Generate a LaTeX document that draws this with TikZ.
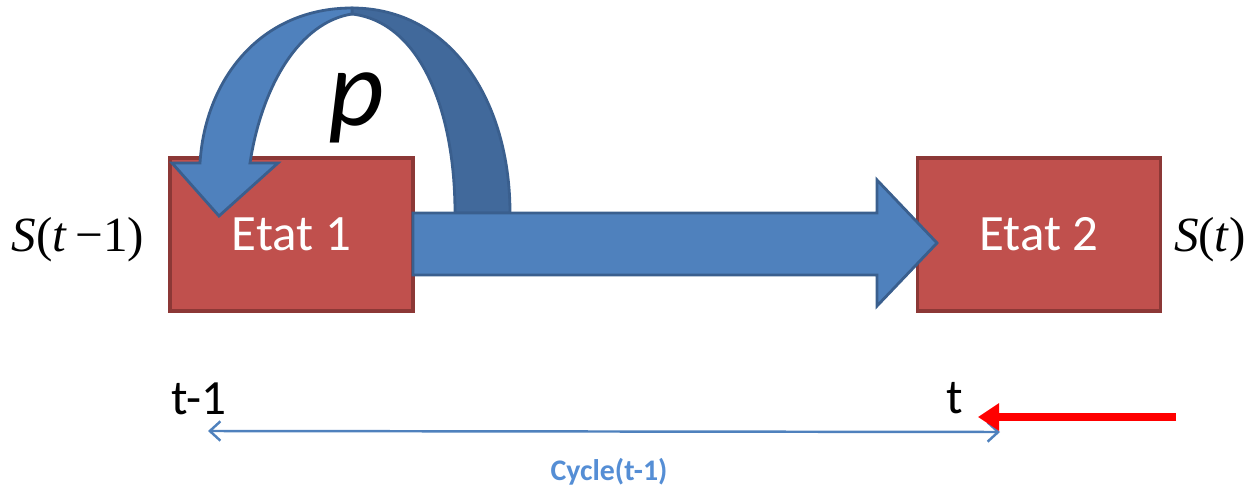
\documentclass[tikz,border=0pt]{standalone}
\usepackage{fontspec}
\setmainfont{Carlito}
\newfontfamily\timesf{Liberation Serif}
\usetikzlibrary{arrows.meta}
\definecolor{boxred}{HTML}{C0504D}
\definecolor{boxedge}{HTML}{8C3836}
\definecolor{arrowblue}{HTML}{4F81BD}
\definecolor{arrowedge}{HTML}{3A5F8E}
\definecolor{arrowback}{HTML}{41699B}
\definecolor{cycleblue}{HTML}{558ED5}

\begin{document}
\begin{tikzpicture}[x=0.02cm,y=-0.02cm]
\useasboundingbox (0,0) rectangle (1245,486);
\tikzset{etat/.style={draw=boxedge,fill=boxred,line width=1.9pt,inner sep=0pt,
                      minimum width=4.86cm,minimum height=3.06cm,text=white,
                      font=\fontsize{29}{34}\selectfont},
         bigarrow/.style={draw=arrowedge,fill=arrowblue,line width=1.6pt,line join=miter},
         timelbl/.style={font=\fontsize{28}{32}\selectfont},
         statelbl/.style={font=\timesf\fontsize{28}{32}\selectfont}}

% the two states
\foreach \n/\x in {1/291.5, 2/1039}
    \node[etat] (etat\n) at (\x,234.5) {Etat \n};

% loop arrow: back band, then front band with its head
\draw[bigarrow,fill=arrowback] (352,8) .. controls (450,8) and (510,100) .. (510,213)
    -- (455,213) .. controls (455,110) and (420,22) .. (352,14) -- cycle;
\draw[bigarrow] (352,8) .. controls (260,8) and (205,80) .. (200,163)
    -- (172,163) -- (219,216) -- (278,163) -- (250,163)
    .. controls (262,85) and (300,22) .. (352,14) -- cycle;
\node[font=\itshape\fontsize{62}{66}\selectfont] (prob) at (357,108) {p};

% transition arrow
\draw[bigarrow] (413,213) -- (877,213) -- (877,180) -- (937,243) -- (877,306)
    -- (877,275) -- (413,275) -- cycle;

% state labels
\node[statelbl] (sprev) at (78,240) {\textit{S}(\textit{t}\,−1)};
\node[statelbl] (snow) at (1210,240) {\textit{S}(\textit{t})};

% time axis
\node[timelbl] (tprev) at (199,399) {t-1};
\node[timelbl] (tnow) at (955,398) {t};
\coordinate (cstart) at (208,431);
\coordinate (cend) at (1000,432);
\draw[arrowblue,line width=1.4pt,{Straight Barb[length=6pt,width=11pt]}-{Straight Barb[length=6pt,width=11pt]}]
    (cstart) -- (cend);
\node[text=cycleblue,font=\bfseries\fontsize{17}{20}\selectfont] (cycle) at (609,472) {Cycle(t-1)};

% current time marker
\coordinate (mfrom) at (1176,417);
\coordinate (mto) at (978,417);
\draw[red,line width=4pt,-{Triangle[length=12pt,width=15pt]}] (mfrom) -- (mto);
\end{tikzpicture}
\end{document}
